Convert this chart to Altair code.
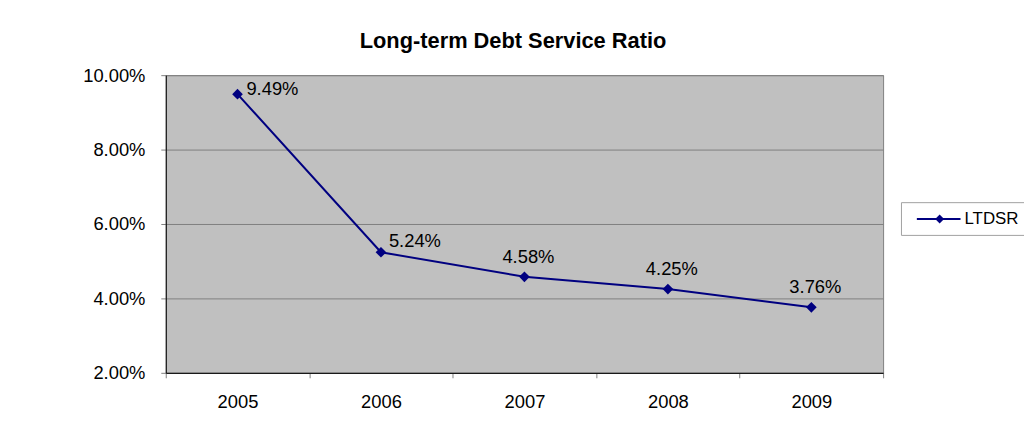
import altair as alt
import pandas as pd

years = ["2005", "2006", "2007", "2008", "2009"]
ltdsr = [0.0949, 0.0524, 0.0458, 0.0425, 0.0376]
labels = ["9.49%", "5.24%", "4.58%", "4.25%", "3.76%"]
y_ticks = [0.02, 0.04, 0.06, 0.08, 0.10]
series_name = "LTDSR"
title_text = "Long-term Debt Service Ratio"

df = pd.DataFrame({"year": years, "value": ltdsr, "label": labels})

FONT = "Liberation Sans"
NAVY = "#000080"
W, H = 723, 300

x_enc = alt.X(
    "year:N",
    title=None,
    sort=years,
    scale=alt.Scale(paddingInner=0, paddingOuter=0),
    axis=alt.Axis(
        labelAngle=0, labelFont=FONT, labelFontSize=18.5, labelColor="black",
        labelPadding=15, tickBand="extent", tickSize=5, tickColor="#808080",
        domainColor="black", domainWidth=1, grid=False,
    ),
)
y_enc = alt.Y(
    "value:Q",
    title=None,
    scale=alt.Scale(domain=[0.02, 0.10], nice=False, zero=False),
    axis=alt.Axis(
        values=y_ticks, format=".2%", labelFont=FONT, labelFontSize=18.5,
        labelColor="black", labelPadding=16, tickSize=5, tickColor="#808080",
        domainColor="black", domainWidth=1, gridColor="#808080", gridWidth=1,
    ),
)

base = alt.Chart(df)

line = base.mark_line(color=NAVY, strokeWidth=2).encode(x=x_enc, y=y_enc)
pts = base.mark_point(shape="diamond", filled=True, color=NAVY, size=115, opacity=1).encode(
    x=alt.X("year:N", sort=years), y="value:Q"
)

lab_2005 = base.transform_filter(alt.datum.year == "2005").mark_text(
    align="left", baseline="middle", dx=9, dy=-5, font=FONT, fontSize=18.5, color="black"
).encode(x=alt.X("year:N", sort=years), y="value:Q", text="label:N")
lab_2006 = base.transform_filter(alt.datum.year == "2006").mark_text(
    align="left", baseline="middle", dx=8, dy=-11, font=FONT, fontSize=18.5, color="black"
).encode(x=alt.X("year:N", sort=years), y="value:Q", text="label:N")
lab_rest = base.transform_filter(
    (alt.datum.year != "2005") & (alt.datum.year != "2006")
).mark_text(
    align="center", baseline="alphabetic", dx=4, dy=-14, font=FONT, fontSize=18.5, color="black"
).encode(x=alt.X("year:N", sort=years), y="value:Q", text="label:N")

one = alt.Data(values=[{"t": title_text, "s": series_name}])

title = alt.Chart(one).mark_text(
    font=FONT, fontSize=22, fontWeight="bold", color="black", align="center", baseline="alphabetic"
).encode(x=alt.value(350), y=alt.value(-27), text="t:N")

leg_box = alt.Chart(one).mark_rect(fill="white", stroke="#A0A0A0", strokeWidth=1).encode(
    x=alt.value(741.5), x2=alt.value(880), y=alt.value(128.5), y2=alt.value(161.5)
)
leg_line = alt.Chart(one).mark_rule(color=NAVY, strokeWidth=2).encode(
    x=alt.value(757), x2=alt.value(801), y=alt.value(145)
)
leg_pt = alt.Chart(one).mark_point(shape="diamond", filled=True, color=NAVY, size=80, opacity=1).encode(
    x=alt.value(780), y=alt.value(145)
)
leg_txt = alt.Chart(one).mark_text(
    font=FONT, fontSize=17, color="black", align="left", baseline="middle"
).encode(x=alt.value(805), y=alt.value(145), text="s:N")

chart = alt.layer(
    line, pts, lab_2005, lab_2006, lab_rest, title, leg_box, leg_line, leg_pt, leg_txt
).properties(
    width=W, height=H,
    autosize=alt.AutoSizeParams(type="none"),
    padding={"left": 159, "top": 66, "right": 142, "bottom": 63},
    background="white",
).configure_view(
    fill="#C0C0C0", stroke="#808080", strokeWidth=1
)

chart.save("out.html", embed_options={"renderer": "svg", "actions": False})
